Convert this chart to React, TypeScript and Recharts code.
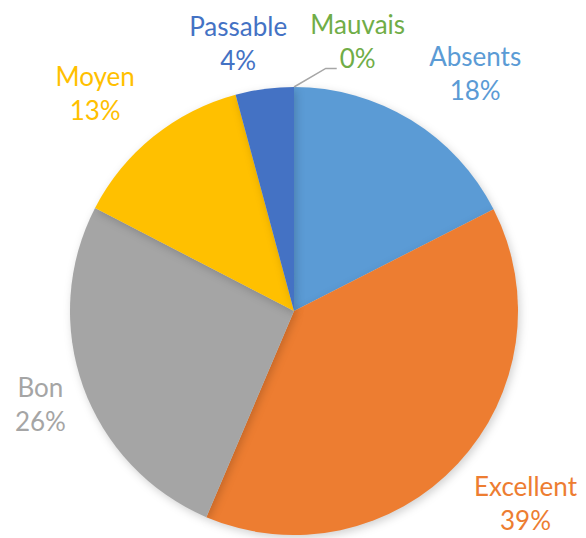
import React from 'react';
import { PieChart, Pie, Cell } from 'recharts';

const categories = ['Absents', 'Excellent', 'Bon', 'Moyen', 'Passable', 'Mauvais'];
const values = [17.5, 38.9, 26.2, 13.2, 4.2, 0];
const percentLabels = ['18%', '39%', '26%', '13%', '4%', '0%'];
const colors = ['#5B9BD5', '#ED7D31', '#A5A5A5', '#FFC000', '#4472C4', '#70AD47'];

const data = categories.map((name, i) => ({ name, value: values[i], pct: percentLabels[i] }));

// label placement: extra radius beyond outer edge and angle nudge (degrees)
const labelPlacement: Record<string, { extra: number; da: number }> = {
  Absents: { extra: 75, da: -5.8 },
  Excellent: { extra: 77, da: 3.3 },
  Bon: { extra: 46, da: 0.3 },
  Moyen: { extra: 71, da: 3.5 },
  Passable: { extra: 50, da: 4.2 },
  Mauvais: { extra: 53, da: -13.3 },
};

const RAD = Math.PI / 180;
const FONT = 'Lato, "Open Sans", sans-serif';
const FONT_SIZE = 26;

const renderLabel = (props: any) => {
  const { cx, cy, midAngle, outerRadius, index } = props;
  const name = categories[index];
  const p = labelPlacement[name];
  const ang = midAngle + p.da;
  const r = outerRadius + p.extra;
  const x = cx + r * Math.cos(-ang * RAD);
  const y = cy + r * Math.sin(-ang * RAD);
  const color = colors[index];
  let leader = null;
  if (name === 'Mauvais') {
    const sx = cx + outerRadius * Math.cos(-midAngle * RAD);
    const sy = cy + outerRadius * Math.sin(-midAngle * RAD);
    leader = (
      <polyline
        points={`${sx},${sy} ${x - 32},${y + 27} ${x - 21},${y + 27}`}
        fill="none"
        stroke="#A6A6A6"
        strokeWidth={1.5}
      />
    );
  }
  return (
    <g key={`lbl-${index}`}>
      {leader}
      <text x={x} y={y - 17} textAnchor="middle" dominantBaseline="central" fill={color} fontFamily={FONT} fontSize={FONT_SIZE}>
        {name}
      </text>
      <text x={x} y={y + 17} textAnchor="middle" dominantBaseline="central" fill={color} fontFamily={FONT} fontSize={FONT_SIZE}>
        {data[index].pct}
      </text>
    </g>
  );
};

export default function App() {
  return (
    <div style={{ position: 'absolute', left: 0, top: 0, width: 586, height: 538, background: '#fff' }}>
      <style>{`.recharts-pie-sector { filter: drop-shadow(2px 3px 4px rgba(0,0,0,0.18)); }`}</style>
      <PieChart width={586} height={538} margin={{ top: 0, right: 0, bottom: 0, left: 0 }}>
        <Pie
          data={data}
          dataKey="value"
          nameKey="name"
          cx={294}
          cy={311}
          outerRadius={224}
          startAngle={90}
          endAngle={-270}
          stroke="none"
          label={renderLabel}
          labelLine={false}
          isAnimationActive={false}
        >
          {data.map((d, i) => (
            <Cell key={d.name} fill={colors[i]} />
          ))}
        </Pie>
      </PieChart>
    </div>
  );
}
